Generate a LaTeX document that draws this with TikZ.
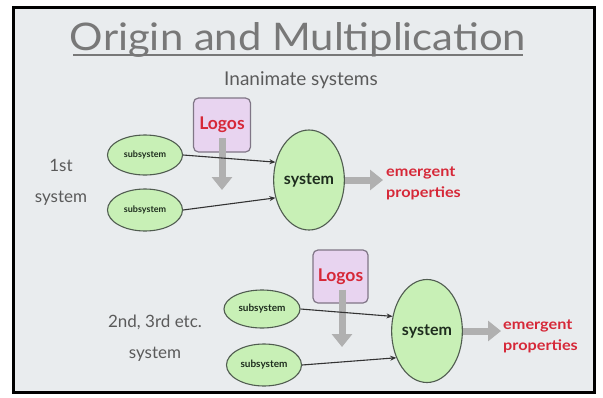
\documentclass[tikz,border=0pt]{standalone}
\usepackage{fontspec}
\setmainfont{Lato}
\usetikzlibrary{shapes.geometric,arrows.meta}
\definecolor{panel}{RGB}{233,236,238}
\definecolor{leaf}{RGB}{200,240,182}
\definecolor{rim}{RGB}{80,92,80}
\definecolor{lilac}{RGB}{232,212,240}
\definecolor{boxrim}{RGB}{128,118,134}
\definecolor{alert}{RGB}{214,40,56}
\definecolor{flowgray}{RGB}{176,176,176}
\definecolor{titlegray}{RGB}{120,120,120}
\definecolor{labelgray}{RGB}{90,90,90}
\definecolor{inkdark}{RGB}{30,45,30}
\tikzset{
  part/.style={ellipse, draw=rim, fill=leaf, line width=1.1pt, inner sep=0pt,
    minimum width=75pt, minimum height=40pt, text=inkdark,
    font=\bfseries\fontsize{9}{10}\selectfont},
  whole/.style={ellipse, draw=rim, fill=leaf, line width=1.1pt, inner sep=0pt,
    minimum width=68pt, minimum height=100pt, text=inkdark,
    font=\bfseries\fontsize{16}{18}\selectfont},
  logosbox/.style={draw=boxrim, fill=lilac, rounded corners=5pt, line width=1.2pt,
    minimum width=57pt, minimum height=54pt, inner sep=0pt, text=alert,
    font=\bfseries\fontsize{17.5}{20}\selectfont},
  flow/.style={-{Stealth[length=6pt,width=5pt]}, line width=1.1pt, draw=black!80},
  bigarrow/.style={-{Triangle[length=13pt,width=20pt]}, line width=7pt, draw=flowgray},
  sidelabel/.style={text=labelgray, align=center, font=\fontsize{17}{31}\selectfont},
  outcome/.style={text=alert, align=left, anchor=west, inner sep=0pt,
    xscale=1.12, transform shape,
    font=\bfseries\fontsize{14.5}{21}\selectfont}
}
\begin{document}
\begin{tikzpicture}[x=1pt,y=-1pt]
\useasboundingbox (0,0) rectangle (603,397);
\fill[white] (0,0) rectangle (603,397);
\draw[line width=3pt, fill=panel] (13.5,7.5) rectangle (594.5,392.5);

% headings
\node[text=titlegray, xscale=1.1, transform shape, font=\fontsize{38}{40}\selectfont] (title) at (298,40) {Origin and Multiplication};
\draw[titlegray, line width=1.5pt] (73,55) -- (523,55);
\node[text=labelgray, font=\fontsize{19}{22}\selectfont] (kind) at (301,80) {Inanimate systems};

% first system
\node[logosbox] (logos1) at (222,125) {Logos};
\node[part] (sub1) at (145,155) {subsystem};
\node[part, minimum height=42pt] (sub2) at (145,210) {subsystem};
\node[whole] (sys1) at (309,180) {system};
\coordinate (drop1) at (222,190);
\draw[bigarrow] ([yshift=-13pt]logos1.center) -- (drop1);
\draw[flow] (sub1.east) -- (sys1.152);
\draw[flow] (sub2.east) -- (sys1.208);
\node[outcome] (emerg1) at (386,183) {emergent\\properties};
\draw[bigarrow, shorten >=3pt] (sys1.east) -- (sys1.east -| emerg1.west);
\node[sidelabel] (first) at (61,182) {1st\\system};

% later systems
\node[logosbox, minimum width=55pt, minimum height=53pt] (logos2) at (340.5,276.5) {Logos};
\node[part, minimum width=76pt, minimum height=38pt, font=\bfseries\fontsize{10}{11}\selectfont] (sub3) at (262,309) {subsystem};
\node[part, minimum height=42pt, font=\bfseries\fontsize{10}{11}\selectfont] (sub4) at (264,365) {subsystem};
\node[whole, minimum height=103pt] (sys2) at (427,331) {system};
\coordinate (drop2) at (342,347);
\draw[bigarrow] ([yshift=-13pt,xshift=1.5pt]logos2.center) -- (drop2);
\draw[flow] (sub3.east) -- (sys2.157);
\draw[flow] (sub4.east) -- (sys2.221);
\node[outcome] (emerg2) at (503,336) {emergent\\properties};
\draw[bigarrow, shorten >=2pt] (sys2.east) -- (sys2.east -| emerg2.west);
\node[sidelabel] (later) at (155,338) {2nd, 3rd etc.\\system};
\end{tikzpicture}
\end{document}
